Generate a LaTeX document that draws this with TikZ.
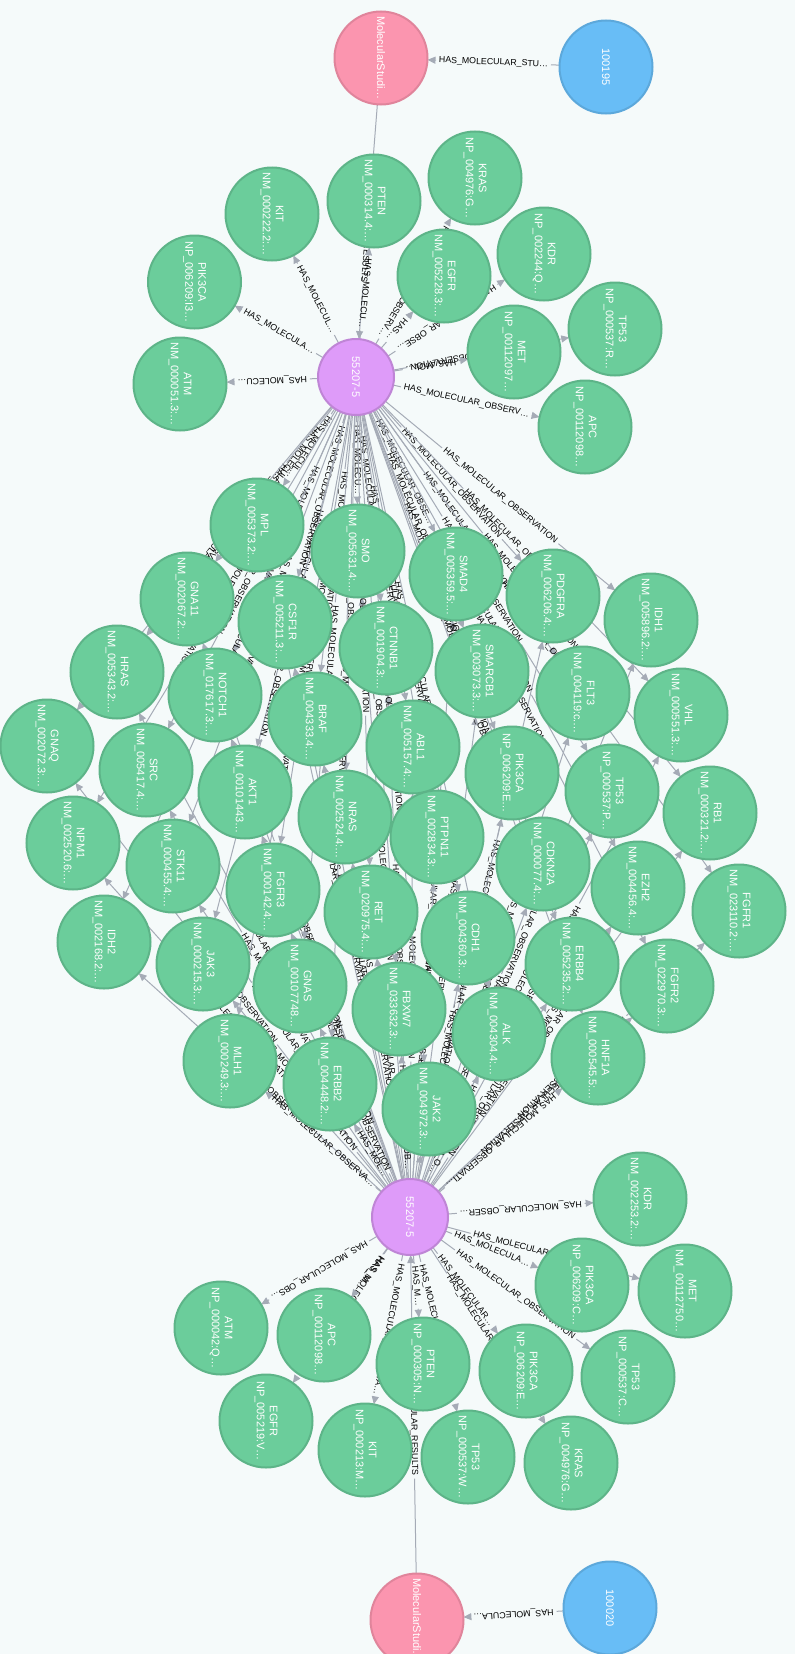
\documentclass[tikz,border=0pt]{standalone}
\usepackage{fontspec}
\usetikzlibrary{arrows.meta}
\newfontfamily\sansfam{Liberation Sans}
\definecolor{bgc}{HTML}{F5FAFA}
\definecolor{gfill}{HTML}{6BCD9B}
\definecolor{gline}{HTML}{5DB488}
\definecolor{pkfill}{HTML}{FB95AF}
\definecolor{pkline}{HTML}{E0849B}
\definecolor{pufill}{HTML}{DE9BF9}
\definecolor{puline}{HTML}{BF85D6}
\definecolor{blfill}{HTML}{68BDF6}
\definecolor{blline}{HTML}{5CA8DB}
\definecolor{relc}{HTML}{A5ABB6}
\newcommand\nodefont{\sansfam\fontsize{11pt}{13pt}\selectfont}
\newcommand\labfont{\sansfam\fontsize{8.8pt}{10pt}\selectfont}
% primitive font identifier for the captions (works inside the picture)
\begingroup\labfont\expandafter\global\expandafter\let\expandafter\labfnt\the\font\endgroup
\pgfdeclarelayer{back}\pgfdeclarelayer{rels}
\pgfsetlayers{back,rels,main}
\newdimen\availdim
\newbox\labbox
\newdimen\exA \newdimen\eyA \newdimen\exB \newdimen\eyB
\def\labsub{19}
\def\fitloop#1#2\endfit{%
  \edef\trial{\cur#1}%
  \setbox\labbox\hbox{\labfnt\trial…}%
  \ifdim\wd\labbox>\availdim
    \let\fitnext\relax
  \else
    \let\cur\trial
    \ifx\relax#2\relax\let\fitnext\relax\else\def\fitnext{\fitloop#2\endfit}\fi
  \fi
  \fitnext}
\newcommand\fitcaption[1]{%
  \setbox\labbox\hbox{\labfnt #1}%
  \ifdim\wd\labbox>\availdim
    \def\cur{}%
    \expandafter\fitloop#1\endfit
    \ifx\cur\empty\gdef\chosen{}\else\xdef\chosen{\cur…}\fi
  \else
    \gdef\chosen{#1}%
  \fi}
% #1 source, #2 target, #3 source radius, #4 target radius, #5 caption
\newcommand\edg[5]{%
  \pgfextractx{\exA}{\pgfpointanchor{#1}{center}}%
  \pgfextracty{\eyA}{\pgfpointanchor{#1}{center}}%
  \pgfextractx{\exB}{\pgfpointanchor{#2}{center}}%
  \pgfextracty{\eyB}{\pgfpointanchor{#2}{center}}%
  \pgfmathsetmacro\dd{veclen((\the\exB)-(\the\exA),(\the\eyB)-(\the\eyA))}%
  \pgfmathsetmacro\ang{atan2((\the\eyB)-(\the\eyA),(\the\exB)-(\the\exA))}%
  \pgfmathsetmacro\rot{\ang>0 ? \ang-180 : \ang}%
  \pgfmathsetmacro\gp{\dd-#3-#4}%
  \pgfmathsetlength\availdim{\gp-\labsub}%
  \fitcaption{#5}%
  \setbox\labbox\hbox{\labfnt\chosen}%
  \pgfmathsetmacro\hw{0.5*\the\wd\labbox+3}%
  \pgfmathsetmacro\dA{\gp/2-\hw}%
  \pgfmathsetmacro\dG{2*\hw}%
  \ifx\chosen\empty
    \draw[rel] (#1) -- (#2);
  \else
    \draw[rel, dash pattern=on \dA pt off \dG pt on 4000pt off 1pt] (#1) -- node[lab, rotate=\rot] {\chosen} (#2);
  \fi}
\newcommand\gn[5]{\node[gnode] (#1) at (#2,#3) {#4\\#5};}
\begin{document}
\catcode`\_=12
\def\hmo{HAS_MOLECULAR_OBSERVATION}%
\def\hmr{HAS_MOLECULAR_RESULTS}%
\def\hms{HAS_MOLECULAR_STUDY}%
\begin{tikzpicture}[x=1pt,y=-1pt,
  gnode/.style={circle, minimum size=93pt, inner sep=0pt, outer sep=0pt, draw=gline, fill=gfill, line width=2pt, text=white, font=\nodefont, align=center, rotate=-90},
  pnode/.style={gnode, minimum size=76pt, draw=puline, fill=pufill},
  knode/.style={gnode, draw=pkline, fill=pkfill},
  bnode/.style={gnode, draw=blline, fill=blfill},
  rel/.style={draw=relc, line width=1pt, -{Triangle[length=8pt,width=7pt]}},
  lab/.style={font=\labfnt, text=black, inner sep=0pt}]
\useasboundingbox (0,0) rectangle (795,1654);
\begin{pgfonlayer}{back}
\fill[bgc] (0,0) rectangle (795,1654);
\end{pgfonlayer}
% top part
\node[knode] (MS1) at (381,58) {MolecularStudi…};
\node[bnode] (B1) at (606,67) {100195};
\node[pnode] (P1) at (356,377) {55207-5};
\gn{KITa}{272}{214}{KIT}{NM_000222.2:…}
\gn{PTENa}{374}{201}{PTEN}{NM_000314.4:…}
\gn{PIKa}{194.5}{282}{PIK3CA}{NP_006209:I3…}
\gn{ATMa}{180}{384}{ATM}{NM_000051.3:…}
\gn{KRASa}{475}{178}{KRAS}{NP_004976:G…}
\gn{EGFRa}{444}{276}{EGFR}{NM_005228.3:…}
\gn{KDRa}{544}{254}{KDR}{NP_002244:Q…}
\gn{TP53a}{615}{329}{TP53}{NP_000537:R…}
\gn{METa}{514}{352}{MET}{NP_00112097…}
\gn{APCa}{585}{427}{APC}{NP_00112098…}
% middle part
\gn{MPL}{257}{525}{MPL}{NM_005373.2:…}
\gn{SMO}{358}{551}{SMO}{NM_005631.4:…}
\gn{GNA11}{187}{599}{GNA11}{NM_002067.2:…}
\gn{CSF1R}{285}{622}{CSF1R}{NM_005211.3:…}
\gn{CTNNB1}{386}{648}{CTNNB1}{NM_001904.3:…}
\gn{SMAD4}{456}{574}{SMAD4}{NM_005359.5:…}
\gn{PDGFRA}{553}{596}{PDGFRA}{NM_006206.4:…}
\gn{IDH1}{651}{620}{IDH1}{NM_005896.2:…}
\gn{HRAS}{117}{672}{HRAS}{NM_005343.2:…}
\gn{NOTCH1}{215}{695}{NOTCH1}{NM_017617.3:…}
\gn{BRAF}{315}{719}{BRAF}{NM_004333.4:…}
\gn{SMARCB1}{482}{671}{SMARCB1}{NM_003073.3:…}
\gn{FLT3}{583}{693}{FLT3}{NM_004119:c.…}
\gn{VHL}{681}{715}{VHL}{NM_000551.3:…}
\gn{GNAQ}{47}{746}{GNAQ}{NM_002072.3:…}
\gn{SRC}{146}{770}{SRC}{NM_005417.4:…}
\gn{AKT1}{245}{792}{AKT1}{NM_00101443…}
\gn{NRAS}{345}{817}{NRAS}{NM_002524.4:…}
\gn{ABL1}{413}{747}{ABL1}{NM_005157.4:…}
\gn{PIKm}{512}{773}{PIK3CA}{NP_006209:E…}
\gn{TP53m}{612}{791}{TP53}{NP_000537:P…}
\gn{RB1}{710}{813}{RB1}{NM_000321.2:…}
\gn{PTPN11}{437}{837}{PTPN11}{NM_002834.3:…}
\gn{CDKN2A}{543}{864}{CDKN2A}{NM_000077.4:…}
\gn{NPM1}{73}{843}{NPM1}{NM_002520.6:…}
\gn{STK11}{173}{866}{STK11}{NM_000455.4:…}
\gn{FGFR3}{273}{890}{FGFR3}{NM_000142.4:…}
\gn{RET}{371}{912}{RET}{NM_020975.4:…}
\gn{EZH2}{638}{888}{EZH2}{NM_004456.4:…}
\gn{FGFR1}{739}{911}{FGFR1}{NM_023110.2:…}
\gn{IDH2}{104}{942}{IDH2}{NM_002168.2:…}
\gn{JAK3}{203}{964}{JAK3}{NM_000215.3:…}
\gn{GNAS}{300}{986}{GNAS}{NM_00107748…}
\gn{FBXW7}{399}{1009}{FBXW7}{NM_033632.3:…}
\gn{CDH1}{468}{938}{CDH1}{NM_004360.3:…}
\gn{ERBB4}{572}{964}{ERBB4}{NM_005235.2:…}
\gn{FGFR2}{667}{986}{FGFR2}{NM_022970.3:…}
\gn{MLH1}{230}{1061}{MLH1}{NM_000249.3:…}
\gn{ERBB2}{330}{1084}{ERBB2}{NM_004448.2:…}
\gn{ALK}{499}{1034}{ALK}{NM_004304.4:…}
\gn{HNF1A}{598}{1058}{HNF1A}{NM_000545.5:…}
\gn{JAK2}{429}{1109}{JAK2}{NM_004972.3:…}
% bottom part
\node[pnode] (P2) at (410,1217) {55207-5};
\gn{KDRb}{640}{1199}{KDR}{NM_002253.2:…}
\gn{PIKb1}{582}{1285}{PIK3CA}{NP_006209:C…}
\gn{METb}{685}{1291}{MET}{NM_00112750…}
\gn{TP53b1}{628}{1377}{TP53}{NP_000537:C…}
\gn{PIKb2}{526}{1371}{PIK3CA}{NP_006209:E…}
\gn{KRASb}{571}{1463}{KRAS}{NP_004976:G…}
\gn{PTENb}{423}{1364}{PTEN}{NP_000305:N…}
\gn{TP53b2}{468}{1457}{TP53}{NP_000537:W…}
\gn{KITb}{365}{1450}{KIT}{NP_000213:M…}
\gn{EGFRb}{266}{1421}{EGFR}{NP_005219:V…}
\gn{APCb}{324}{1335}{APC}{NP_00112098…}
\gn{ATMb}{221}{1328}{ATM}{NP_000042:Q…}
\node[knode] (MS2) at (417,1620) {MolecularStudi…};
\node[bnode] (B2) at (610,1608) {100020};
% relationships
\begin{pgfonlayer}{rels}
{\def\labsub{21}\edg{B1}{MS1}{46.5}{46.5}{\hms}}
\edg{MS1}{P1}{46.5}{38}{\hmr}
\edg{B2}{MS2}{46.5}{46.5}{\hms}
\edg{MS2}{P2}{46.5}{38}{\hmr}
\foreach \g in {KITa,PTENa,PIKa,ATMa,KRASa,EGFRa,KDRa,TP53a,METa,APCa}{\edg{P1}{\g}{38}{46.5}{\hmo}}
\foreach \g in {KDRb,PIKb1,METb,TP53b1,PIKb2,KRASb,PTENb,TP53b2,KITb,EGFRb,APCb,ATMb}{\edg{P2}{\g}{38}{46.5}{\hmo}}
\foreach \g in {MPL,SMO,GNA11,CSF1R,CTNNB1,SMAD4,PDGFRA,IDH1,HRAS,NOTCH1,BRAF,SMARCB1,FLT3,VHL,GNAQ,SRC,AKT1,NRAS,ABL1,PIKm,TP53m,RB1,PTPN11,CDKN2A,NPM1,STK11,FGFR3,RET,EZH2,FGFR1,IDH2,JAK3,GNAS,FBXW7,CDH1,ERBB4,FGFR2,MLH1,ERBB2,ALK,HNF1A,JAK2}{\edg{P1}{\g}{38}{46.5}{\hmo}\edg{P2}{\g}{38}{46.5}{\hmo}}
\end{pgfonlayer}
\end{tikzpicture}
\end{document}
